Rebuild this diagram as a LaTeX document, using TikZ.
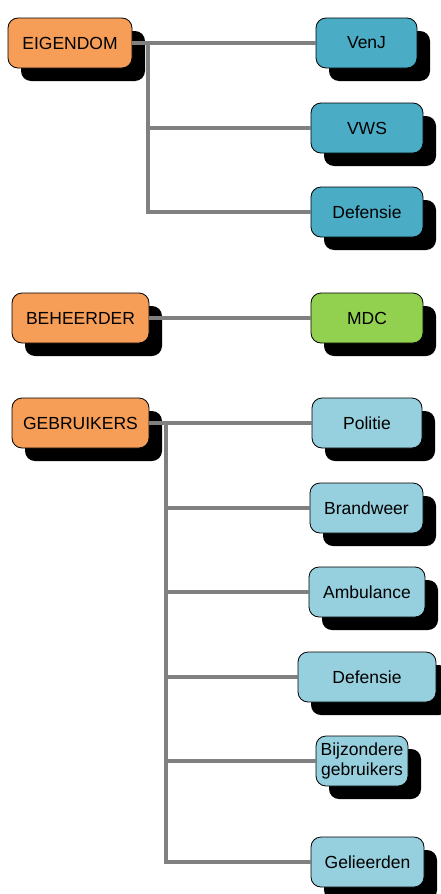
\documentclass[tikz,border=0pt]{standalone}
\usepackage{fontspec}
\setmainfont{Liberation Sans}
\usetikzlibrary{shadows}
\definecolor{oranje}{RGB}{246,157,88}
\definecolor{donkerblauw}{RGB}{75,172,198}
\definecolor{lichtblauw}{RGB}{150,207,221}
\definecolor{groen}{RGB}{146,208,80}
\definecolor{lijngrijs}{RGB}{128,128,128}

\begin{document}
\begin{tikzpicture}[x=1pt,y=-1pt,
    box/.style={draw=black,line width=0.8pt,rounded corners=10pt,minimum height=50pt,inner sep=0pt,
      align=center,font=\fontsize{17.5}{20}\selectfont,
      drop shadow={shadow xshift=13pt,shadow yshift=-13pt,fill=black,opacity=1}},
    conn/.style={draw=lijngrijs,line width=3.5pt}]
\useasboundingbox (0,0) rectangle (441,894);

% linker kolom
\node[box,fill=oranje,minimum width=124pt] (eig) at (70,43) {EIGENDOM};
\node[box,fill=oranje,minimum width=137pt] (beh) at (80.5,318) {BEHEERDER};
\node[box,fill=oranje,minimum width=137pt] (geb) at (80.5,423) {GEBRUIKERS};

% rechter kolom
\node[box,fill=donkerblauw,minimum width=101pt] (venj) at (366.5,43) {VenJ};
\node[box,fill=donkerblauw,minimum width=112pt] (vws) at (367,128) {VWS};
\node[box,fill=donkerblauw,minimum width=112pt] (defa) at (367,212) {Defensie};
\node[box,fill=groen,minimum width=112pt] (mdc) at (367,318) {MDC};
\node[box,fill=lichtblauw,minimum width=110pt] (pol) at (367,423) {Politie};
\node[box,fill=lichtblauw,minimum width=113pt] (brand) at (366.5,508) {Brandweer};
\node[box,fill=lichtblauw,minimum width=116pt] (amb) at (367,592) {Ambulance};
\node[box,fill=lichtblauw,minimum width=138pt] (defb) at (367,677) {Defensie};
\node[box,fill=lichtblauw,minimum width=92pt] (bijz) at (362,761) {Bijzondere\\gebruikers};
\node[box,fill=lichtblauw,minimum width=113pt] (gel) at (367.5,862) {Gelieerden};

\coordinate (e1) at (148,43);
\coordinate (g1) at (166,423);

\draw[conn] (eig.east) -- (venj.west);
\foreach \n in {vws,defa} \draw[conn] (e1) |- (\n.west);
\draw[conn] (beh.east) -- (mdc.west);
\draw[conn] (geb.east) -- (pol.west);
\foreach \n in {brand,amb,defb,bijz,gel} \draw[conn] (g1) |- (\n.west);

\end{tikzpicture}
\end{document}
